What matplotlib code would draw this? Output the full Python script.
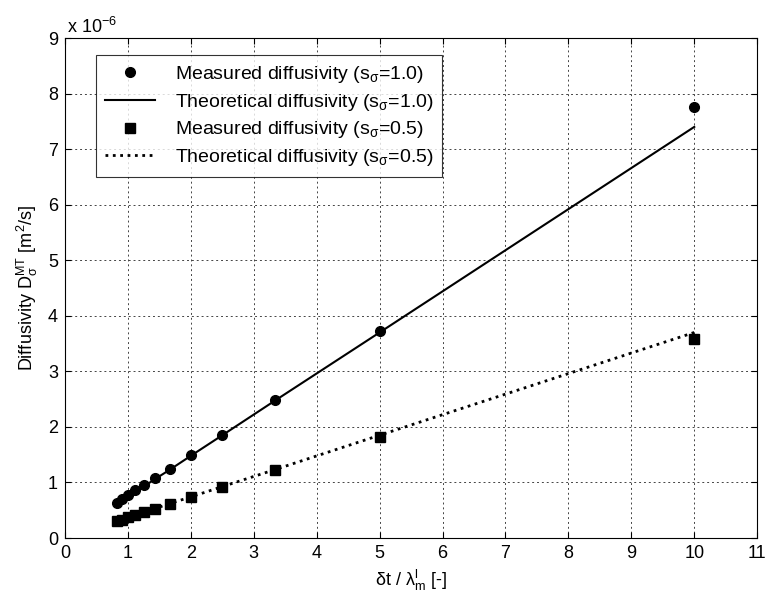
import matplotlib
matplotlib.use("Agg")
import matplotlib.pyplot as plt

plt.rcParams['font.family'] = ['Liberation Sans', 'DejaVu Sans']
plt.rcParams['mathtext.fontset'] = 'custom'
plt.rcParams['mathtext.rm'] = 'Liberation Sans'
plt.rcParams['mathtext.it'] = 'Liberation Sans'
plt.rcParams['mathtext.default'] = 'regular'

# time step ratio dt / lambda
x_vals = [10.0, 5.0, 3.333, 2.5, 2.0, 1.667, 1.429, 1.25, 1.111, 1.0, 0.909, 0.833]

# diffusivity in units of 1e-6 m^2/s
meas_10 = [7.75, 3.72, 2.48, 1.86, 1.49, 1.25, 1.08, 0.95, 0.86, 0.78, 0.71, 0.63]
theo_10 = [7.40, 3.70, 2.47, 1.85, 1.48, 1.23, 1.06, 0.925, 0.82, 0.74, 0.67, 0.62]
meas_05 = [3.58, 1.82, 1.22, 0.92, 0.74, 0.61, 0.53, 0.46, 0.41, 0.37, 0.33, 0.31]
theo_05 = [3.70, 1.85, 1.23, 0.925, 0.74, 0.62, 0.53, 0.46, 0.41, 0.37, 0.34, 0.31]

fig = plt.figure(figsize=(7.79, 5.97), dpi=100)
ax = fig.add_axes([0.0834, 0.0988, 0.8886, 0.8375])

ax.plot(x_vals, meas_10, 'o', color='black', markersize=7,
        label=r'Measured diffusivity (s$_\sigma$=1.0)')
ax.plot(x_vals, theo_10, '-', color='black', linewidth=1.5,
        label=r'Theoretical diffusivity (s$_\sigma$=1.0)')
ax.plot(x_vals, meas_05, 's', color='black', markersize=6.5,
        label=r'Measured diffusivity (s$_\sigma$=0.5)')
ax.plot(x_vals, theo_05, ':', color='black', linewidth=2,
        label=r'Theoretical diffusivity (s$_\sigma$=0.5)')

ax.set_xlim(0, 11)
ax.set_ylim(0, 9)
ax.set_xticks(range(0, 12))
ax.set_yticks(range(0, 10))
ax.tick_params(direction='in', labelsize=13, length=4, top=True, right=True, pad=5)
ax.grid(True, linestyle=(0, (2, 3)), color='#444444', linewidth=0.7)

ax.set_xlabel(r'δt / λ$^l_m$ [-]', fontsize=13)
ax.set_ylabel(r'Diffusivity D$^{MT}_\sigma$ [m$^2$/s]', fontsize=13, labelpad=6)
ax.text(0.003, 1.003, r'x 10$^{-6}$', transform=ax.transAxes, fontsize=13,
        ha='left', va='bottom')

leg = ax.legend(loc='upper left', bbox_to_anchor=(0.045, 0.966), fontsize=14,
                frameon=True, fancybox=False, edgecolor='black',
                handlelength=2.6, labelspacing=0.35, borderpad=0.45,
                borderaxespad=0.0, handletextpad=1.0)
leg.get_frame().set_linewidth(0.8)

fig.savefig("out.png", dpi=100)
